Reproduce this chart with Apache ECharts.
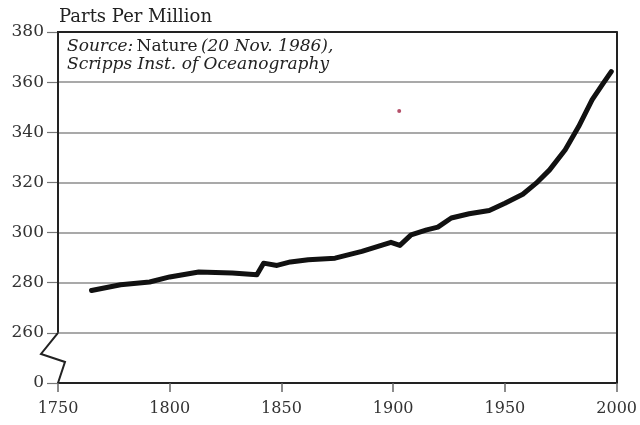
<!DOCTYPE html>
<html>
<head>
<meta charset="utf-8">
<script src="https://cdn.jsdelivr.net/npm/echarts@6/dist/echarts.min.js"></script>
<style>html,body{margin:0;padding:0;background:#fff}#c{width:640px;height:425px}</style>
</head>
<body>
<div id="c"></div>
<script>
const years = [1765, 1778, 1791, 1800, 1813, 1828, 1839, 1842, 1848, 1854, 1862, 1874, 1886, 1899, 1903, 1908, 1915, 1920, 1926, 1934, 1943, 1950, 1958, 1964, 1970, 1977, 1983, 1989, 1993.5, 1997.6];
const ppm   = [276.9, 279.2, 280.3, 282.3, 284.3, 283.9, 283.2, 287.8, 286.9, 288.3, 289.2, 289.8, 292.5, 296.1, 294.9, 299.1, 301.1, 302.2, 305.8, 307.5, 308.8, 311.7, 315.3, 319.7, 325.0, 333.0, 342.3, 352.9, 358.9, 364.2];
const yTicks = [240, 260, 280, 300, 320, 340, 360, 380];
const yTickLabels = ['0', '260', '280', '300', '320', '340', '360', '380'];
const xTicks = [1750, 1800, 1850, 1900, 1950, 2000];
const xTickLabels = ['1750', '1800', '1850', '1900', '1950', '2000'];
const yAxisTitle = 'Parts Per Million';
const sourceLine1 = ['Source:', 'Nature', '(20 Nov. 1986),'];
const sourceLine2 = 'Scripps Inst. of Oceanography';
const speck = [1902.7, 348.5];

const FONT = 'DejaVu Serif';
const chart = echarts.init(document.getElementById('c'), null, {renderer: 'canvas'});
const lineData = years.map((y, i) => [y, ppm[i]]);

chart.setOption({
  backgroundColor: '#ffffff',
  animation: false,
  grid: {left: 58, right: 22, top: 32, bottom: 42, containLabel: false},
  xAxis: [{
    type: 'value', min: xTicks[0], max: xTicks[xTicks.length - 1], interval: 50,
    axisLine: {show: true, lineStyle: {color: '#222', width: 2}},
    axisTick: {show: true, inside: false, length: 9, lineStyle: {color: '#666', width: 1.5}},
    axisLabel: {color: '#333', fontFamily: FONT, fontSize: 16, margin: 18,
      formatter: v => { const k = xTicks.indexOf(v); return k >= 0 ? xTickLabels[k] : ''; }},
    splitLine: {show: false}
  }, {
    type: 'value', position: 'top', min: xTicks[0], max: xTicks[xTicks.length - 1],
    axisLine: {show: true, lineStyle: {color: '#222', width: 2}},
    axisTick: {show: false}, axisLabel: {show: false}, splitLine: {show: false}
  }],
  yAxis: [{
    type: 'value', min: yTicks[0], max: yTicks[yTicks.length - 1], interval: 20,
    axisLine: {show: false},
    axisTick: {show: true, inside: false, length: 11, lineStyle: {color: '#777', width: 1.2}},
    axisLabel: {color: '#333', fontFamily: FONT, fontSize: 17, margin: 14,
      formatter: v => { const k = yTicks.indexOf(v); return k >= 0 ? yTickLabels[k] : ''; }},
    splitLine: {show: true, lineStyle: {color: '#8c8c8c', width: 1.5}}
  }, {
    type: 'value', position: 'right', min: yTicks[0], max: yTicks[yTicks.length - 1], interval: 20,
    axisLine: {show: true, lineStyle: {color: '#222', width: 2}},
    axisTick: {show: false}, axisLabel: {show: false}, splitLine: {show: false}
  }],
  series: [{
    type: 'line', data: lineData, showSymbol: false, symbol: 'none',
    lineStyle: {color: '#111', width: 5, join: 'round', cap: 'round'},
    z: 5
  }]
});

const px = (x, y) => chart.convertToPixel({gridIndex: 0}, [x, y]);
const pTop = px(1750, 380), p260 = px(1750, 260), p0 = px(1750, 240), pSpeck = px(speck[0], speck[1]);
const span = p0[1] - p260[1];

chart.setOption({
  graphic: [
    {type: 'line', shape: {x1: pTop[0], y1: pTop[1] - 1, x2: p260[0], y2: p260[1]},
     style: {stroke: '#222', lineWidth: 2}, z: 10},
    {type: 'polyline', shape: {points: [
      [p260[0], p260[1]],
      [p260[0] - 17, p260[1] + span * 0.42],
      [p260[0] + 7, p260[1] + span * 0.58],
      [p0[0], p0[1]]
    ]}, style: {stroke: '#222', lineWidth: 2, fill: null}, z: 10},
    {type: 'text', left: 59, top: 8,
     style: {text: yAxisTitle, font: '18px "' + FONT + '"', fill: '#222'}},
    {type: 'text', left: 67, top: 38,
     style: {
       text: '{i|' + sourceLine1[0] + '} {r|' + sourceLine1[1] + '} {i|' + sourceLine1[2] + '}\n{i|' + sourceLine2 + '}',
       rich: {
         i: {fontFamily: FONT, fontStyle: 'italic', fontSize: 17, fill: '#222', lineHeight: 18},
         r: {fontFamily: FONT, fontSize: 17, fill: '#222', lineHeight: 18}
       }
     }},
    {type: 'circle', shape: {cx: pSpeck[0], cy: pSpeck[1], r: 2}, style: {fill: '#b5506a'}}
  ]
});
</script>
</body>
</html>
